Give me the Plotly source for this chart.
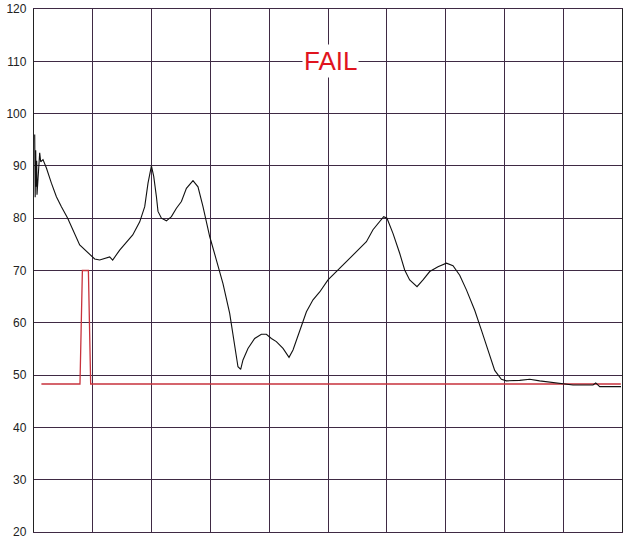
import plotly.graph_objects as go

# Black trace (x in % of horizontal span, y in value units)
black_x = [0.12, 0.20, 0.29, 0.37, 0.46, 0.51, 0.97, 1.14, 1.53, 2.11, 2.96, 3.81, 4.66, 5.73, 7.77,
           9.47, 10.32, 11.17, 12.87, 13.38,
           14.57, 16.79, 17.98, 18.83, 19.39, 19.97, 20.36, 20.82, 21.09, 21.67, 22.52, 23.37, 24.22,
           25.07, 25.92, 27.04, 27.89, 28.74, 29.88, 31.02, 32.14, 33.28, 34.12, 34.69, 35.15, 35.54,
           36.39, 37.53, 38.67, 39.52, 40.37, 41.22, 42.35, 43.37, 44.05, 45.19, 46.33, 47.45, 48.59,
           50.00, 51.43, 53.13, 55.10, 56.53, 57.65, 58.79, 59.47, 60.03, 61.05, 62.19, 63.04, 63.89,
           65.14, 66.16, 67.30, 68.71, 70.14, 71.26, 72.40, 73.54, 74.95, 76.09, 77.21, 78.35, 79.49,
           80.34, 82.60, 84.30, 86.00, 87.70, 89.97, 91.67, 95.07, 95.53, 96.21, 99.83]
black_y = [96.0, 84.0, 93.0, 86.0, 91.0, 84.5, 92.5, 90.8, 91.2, 89.6, 86.7, 84.1, 82.2, 80.0, 74.9,
           73.0, 72.2, 72.0, 72.6, 72.0,
           73.9, 76.8, 79.3, 82.2, 86.7, 90.0, 88.0, 84.1, 81.3, 80.0, 79.5, 80.3, 81.9,
           83.2, 85.7, 87.2, 86.0, 82.2, 76.5, 72.0, 67.5, 61.8, 56.1, 51.6, 51.1, 52.9,
           55.1, 57.0, 57.8, 57.8, 57.0, 56.4, 55.1, 53.4, 54.8, 58.6, 62.1, 64.4, 65.9,
           68.2, 69.8, 71.7, 73.9, 75.5, 77.8, 79.3, 80.3, 80.0, 77.1, 73.3, 70.1, 68.2,
           66.9, 68.2, 69.8, 70.7, 71.4, 70.9, 69.1, 66.3, 62.4, 58.6, 54.8, 50.9, 49.2,
           48.9, 49.0, 49.2, 48.9, 48.7, 48.4, 48.1, 48.1, 48.5, 47.8, 47.8]

# Red limit trace
red_x = [1.26, 7.82, 8.23, 9.25, 9.64, 99.8]
red_y = [48.3, 48.3, 70.0, 70.0, 48.3, 48.3]

y_ticks = [20, 30, 40, 50, 60, 70, 80, 90, 100, 110, 120]
status_text = "FAIL"

grid = "#3f2a44"

fig = go.Figure()
fig.add_trace(go.Scatter(x=red_x, y=red_y, mode="lines",
                         line=dict(color="#c8323c", width=1.3), hoverinfo="skip"))
fig.add_trace(go.Scatter(x=black_x, y=black_y, mode="lines",
                         line=dict(color="#111111", width=1.1), hoverinfo="skip"))

fig.add_annotation(x=50.5, y=110, xref="x", yref="y", text=status_text, showarrow=False,
                   font=dict(family="Liberation Sans, Arial", size=26, color="#e0141e"),
                   bgcolor="white", borderpad=1)

fig.update_layout(
    width=624, height=542,
    margin=dict(l=34, r=2, t=9, b=10),
    paper_bgcolor="white", plot_bgcolor="white",
    showlegend=False,
    xaxis=dict(range=[0, 100], dtick=10, showgrid=True, gridcolor=grid, gridwidth=1.3,
               showticklabels=False, zeroline=False, showline=True, linecolor=grid,
               linewidth=1.3, mirror=True, ticks=""),
    yaxis=dict(range=[20, 120], tickvals=y_ticks, ticktext=[str(v) for v in y_ticks],
               showgrid=True, gridcolor=grid, gridwidth=1.3, zeroline=False,
               showline=True, linecolor="#222222", linewidth=1.3, mirror=True,
               ticks="", ticklabelstandoff=4,
               tickfont=dict(family="Liberation Sans, Arial", size=12, color="#222222")),
)

fig.write_html("out.html", config={"displayModeBar": False},
               post_script="document.body.style.margin='0px';document.body.style.overflow='hidden';")
